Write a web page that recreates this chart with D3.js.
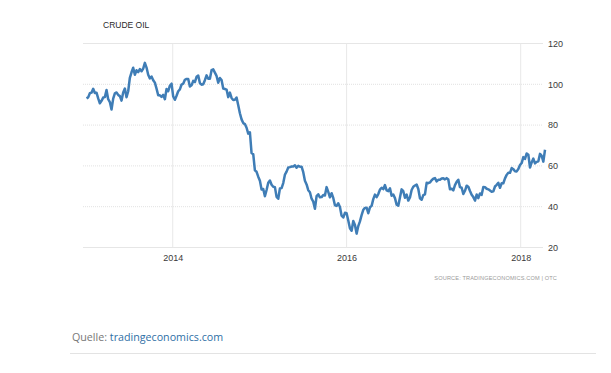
<!DOCTYPE html>
<html lang="en">
<head>
<meta charset="UTF-8">
<title>Crude Oil</title>
<script src="https://d3js.org/d3.v7.min.js"></script>
<style>
  body, html { margin: 0; background: #fff; }
  svg { display: block; }
  .axis text { font-family: 'Liberation Sans', Arial, sans-serif; font-size: 9px; fill: #3a3a3a; }
  .axis .domain, .axis line { display: none; }
  .title { font-family: 'Liberation Sans', Arial, sans-serif; font-size: 8.5px; fill: #2a2a2a; }
  .source { font-family: 'Liberation Sans', Arial, sans-serif; font-size: 5.6px; fill: #9a9a9a; letter-spacing: 0.15px; }
  .quelle { font-family: 'Open Sans', sans-serif; font-size: 10.7px; fill: #777; }
  .quelle tspan.link { fill: #2f6fa6; }
</style>
</head>
<body>
<svg width="611" height="373"></svg>
<script>
// weekly closes (Fridays), starting at the first Friday of each year
const weekStarts = ["2013-01-04", "2014-01-03", "2015-01-02", "2016-01-01", "2017-01-06", "2018-01-05"];
const wti2013 = [93.1, 93.6, 95.6, 95.9, 97.8, 95.7, 95.9, 93.1, 90.7, 91.9, 93.5, 93.7, 97.2,
  92.7, 91.3, 87.6, 93.0, 95.6, 96.0, 94.8, 94.2, 92.0, 96.0, 97.9, 93.7, 96.6,
  103.2, 105.9, 108.1, 104.7, 106.9, 106.0, 107.5, 106.4, 107.7, 110.5, 108.2, 104.7, 102.9,
  103.8, 102.0, 100.8, 97.9, 94.6, 94.6, 93.8, 94.8, 92.7, 97.7, 96.6, 99.3, 100.3];
const wti2014 = [94.0, 92.4, 94.4, 96.6, 97.5, 99.9, 100.3, 102.2, 102.6, 102.6, 98.9, 99.5, 101.7,
  101.1, 103.7, 104.3, 100.6, 99.8, 100.0, 102.0, 104.4, 102.7, 102.7, 106.9, 107.3, 105.7,
  104.1, 100.8, 103.1, 102.1, 97.9, 97.7, 97.4, 93.7, 95.9, 93.3, 92.3, 92.4, 93.5,
  89.7, 85.8, 82.8, 81.0, 80.5, 78.7, 75.8, 76.5, 66.2, 65.8, 57.8, 57.1, 54.7];
const wti2015 = [52.7, 48.4, 48.7, 45.1, 48.2, 51.7, 52.8, 50.8, 49.8, 49.6, 44.8, 43.9, 48.9,
  49.1, 51.6, 55.7, 57.2, 59.2, 59.4, 59.7, 59.7, 60.3, 59.1, 60.0, 59.6, 59.6,
  56.9, 52.7, 50.9, 48.1, 47.1, 43.9, 42.5, 39.0, 45.2, 46.1, 44.6, 44.7, 45.7,
  45.5, 49.6, 47.3, 44.6, 46.6, 44.3, 40.7, 40.4, 41.7, 39.9, 35.6, 34.7, 37.0];
const wti2016 = [36.8, 33.2, 29.4, 28.2, 33.0, 31.0, 26.8, 30.5, 32.8, 35.9, 38.5, 39.4, 39.5,
  36.8, 39.7, 40.4, 43.7, 45.9, 44.7, 46.2, 48.4, 49.3, 48.6, 50.6, 47.98, 47.6,
  48.99, 45.4, 45.95, 44.2, 41.0, 40.5, 44.5, 48.5, 47.6, 44.4, 45.9, 43.0, 44.5, 48.2,
  49.8, 50.4, 50.85, 48.7, 44.1, 43.4, 45.7, 46.1, 51.7, 51.5, 51.9, 53.0, 53.7];
const wti2017 = [54.0, 52.4, 53.2, 53.2, 53.8, 53.9, 53.4, 54.0, 53.3, 48.5, 48.8, 47.97, 50.6,
  52.2, 53.2, 49.6, 49.3, 46.2, 47.8, 50.3, 49.8, 47.7, 45.8, 44.7, 43.0, 46.0,
  44.2, 46.5, 45.8, 49.7, 49.6, 48.8, 48.5, 47.9, 47.3, 47.5, 49.9, 50.7, 51.7,
  49.3, 51.5, 51.5, 53.9, 55.6, 56.7, 56.6, 58.95, 58.4, 57.4, 57.3, 58.5, 60.4];
const wti2018 = [61.4, 64.3, 63.4, 66.1, 65.5, 59.2, 61.7, 63.6, 61.25, 62.0, 62.3, 65.9, 64.9, 62.1, 67.9];

const yTicks = [20, 40, 60, 80, 100, 120];
const xTickYears = ["2014", "2016", "2018"];
const titleText = "CRUDE OIL";
const sourceText = "SOURCE: TRADINGECONOMICS.COM | OTC";

const parse = d3.timeParse("%Y-%m-%d");
const series = [wti2013, wti2014, wti2015, wti2016, wti2017, wti2018];
const data = [];
series.forEach((vals, i) => {
  const start = parse(weekStarts[i]);
  vals.forEach((v, j) => data.push({ date: d3.timeDay.offset(start, j * 7), value: v }));
});

const svg = d3.select("svg");
const left = 83, right = 543;

const x = d3.scaleTime()
  .domain([parse("2013-01-01"), parse("2018-05-01")])
  .range([85.8, 549.3]);
const y = d3.scaleLinear().domain([20, 120]).range([247.5, 43.5]);

// grid
const grid = svg.append("g");
grid.selectAll("line.h").data(yTicks).enter().append("line")
  .attr("x1", left).attr("x2", right)
  .attr("y1", d => y(d)).attr("y2", d => y(d))
  .attr("stroke", d => (d === 20 || d === 120) ? "#e6e6e6" : "#e2e2e2")
  .attr("stroke-width", 1)
  .attr("stroke-dasharray", d => (d === 20 || d === 120) ? null : "1,1");
grid.selectAll("line.v").data(xTickYears).enter().append("line")
  .attr("x1", d => x(d3.timeParse("%Y")(d))).attr("x2", d => x(d3.timeParse("%Y")(d)))
  .attr("y1", y(120)).attr("y2", y(20))
  .attr("stroke", "#e8e8e8").attr("stroke-width", 1);

// axes
svg.append("g").attr("class", "axis")
  .attr("transform", "translate(546,0)")
  .call(d3.axisRight(y).tickValues(yTicks).tickSize(0).tickPadding(2));
svg.append("g").attr("class", "axis")
  .attr("transform", `translate(0,${y(20)})`)
  .call(d3.axisBottom(x).tickValues(xTickYears.map(d3.timeParse("%Y"))).tickFormat(d3.timeFormat("%Y")).tickSize(0).tickPadding(7));

// line
svg.append("path")
  .datum(data)
  .attr("fill", "none")
  .attr("stroke", "#3f7db6")
  .attr("stroke-width", 2.5)
  .attr("stroke-linejoin", "round")
  .attr("d", d3.line().x(d => x(d.date)).y(d => y(d.value)));

svg.append("text").attr("class", "title").attr("x", 103).attr("y", 27.5).text(titleText);
svg.append("text").attr("class", "source").attr("x", 557).attr("y", 280)
  .attr("text-anchor", "end").text(sourceText);

const q = svg.append("text").attr("class", "quelle").attr("x", 72).attr("y", 341);
q.append("tspan").text("Quelle: ");
q.append("tspan").attr("class", "link").text("tradingeconomics.com");

svg.append("line").attr("x1", 70).attr("x2", 596).attr("y1", 353.5).attr("y2", 353.5)
  .attr("stroke", "#e3e3e3").attr("stroke-width", 1);
</script>
</body>
</html>
